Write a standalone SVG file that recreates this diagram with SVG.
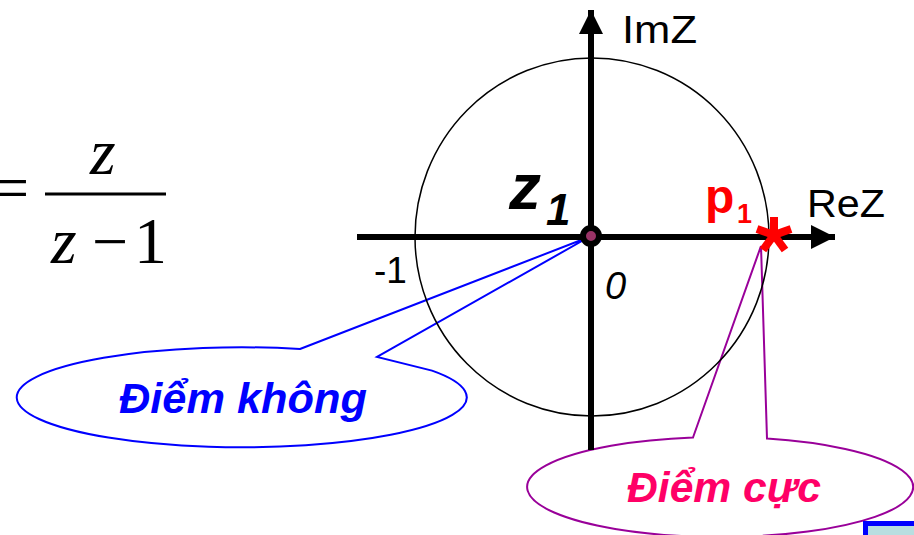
<svg xmlns="http://www.w3.org/2000/svg" width="914" height="535" viewBox="0 0 914 535">
<style>
.ax{stroke:#000;stroke-width:6;fill:none}
.sans{font-family:"Liberation Sans",Arial,sans-serif}
.serif{font-family:"Liberation Serif","Times New Roman",serif}
.bi{font-weight:bold;font-style:italic}
</style>
<defs>
<marker id="arr" viewBox="0 0 10 10" refX="10" refY="5" markerWidth="4" markerHeight="4" markerUnits="strokeWidth" orient="auto">
<path d="M0,0 L10,5 L0,10 Z" fill="#000"/>
</marker>
</defs>
<rect width="914" height="535" fill="#fff"/>

<g id="formula" class="serif" fill="#000">
<text x="-7" y="209" font-size="64">=</text>
<line x1="45" y1="194" x2="166" y2="194" stroke="#000" stroke-width="3"/>
<text x="90" y="174" font-size="66" font-style="italic">z</text>
<text x="51" y="263" font-size="66" font-style="italic">z</text>
<text x="92" y="263" font-size="64">−</text>
<text x="134" y="263" font-size="66">1</text>
</g>

<g id="callout-zero">
<path d="M300,349 L589,237 L377,357 L432,370.6 A225,50 0 1 1 300,349 Z" fill="#fff" stroke="#0000FF" stroke-width="2"/>
<text x="243" y="413" class="sans bi" font-size="42" fill="#0000FF" text-anchor="middle" textLength="248" lengthAdjust="spacingAndGlyphs">Điểm không</text>
</g>

<g id="callout-pole">
<path d="M693,437.5 L761,246 L767,438.5 A193,50 0 1 1 693,437.5 Z" fill="#fff" stroke="#990099" stroke-width="2"/>
<text x="724" y="502" class="sans bi" font-size="42" fill="#FF0066" text-anchor="middle" textLength="194" lengthAdjust="spacingAndGlyphs">Điểm cực</text>
</g>

<g id="unit-circle">
<ellipse cx="592" cy="237" rx="177" ry="179" fill="none" stroke="#000" stroke-width="1.5"/>
</g>

<g id="connectors">
<line class="ax" x1="357" y1="237" x2="835" y2="237" marker-end="url(#arr)"/>
<line class="ax" x1="591" y1="450" x2="591" y2="10" marker-end="url(#arr)"/>
</g>

<g id="zero-point">
<circle cx="591" cy="236" r="8" fill="#993366" stroke="#000" stroke-width="6"/>
<text x="509" y="209" class="sans bi" font-size="64" fill="#000">z</text>
<text x="546" y="225" class="sans bi" font-size="44" fill="#000">1</text>
</g>

<g id="pole-point">
<g stroke="#FF0000" stroke-width="8" stroke-linecap="butt">
<line x1="774" y1="235" x2="774" y2="217"/>
<line x1="774" y1="235" x2="791" y2="229"/>
<line x1="774" y1="235" x2="785" y2="250"/>
<line x1="774" y1="235" x2="763" y2="250"/>
<line x1="774" y1="235" x2="757" y2="229"/>
</g>
<text x="705" y="213" class="sans" font-weight="bold" font-size="48" fill="#FF0000">p</text>
<text x="737" y="223" class="sans" font-weight="bold" font-size="27" fill="#FF0000">1</text>
</g>

<g id="labels" class="sans" fill="#000">
<text x="622" y="43" font-size="39" textLength="75" lengthAdjust="spacingAndGlyphs">ImZ</text>
<text x="807" y="217" font-size="38" textLength="78" lengthAdjust="spacingAndGlyphs">ReZ</text>
<text x="374" y="283" font-size="37">-1</text>
<text x="605" y="299" font-size="38" font-style="italic">0</text>
</g>

<g id="box">
<rect x="865.5" y="523.5" width="60" height="30" fill="#B8DEE0" stroke="#0000FF" stroke-width="5"/>
</g>
</svg>
